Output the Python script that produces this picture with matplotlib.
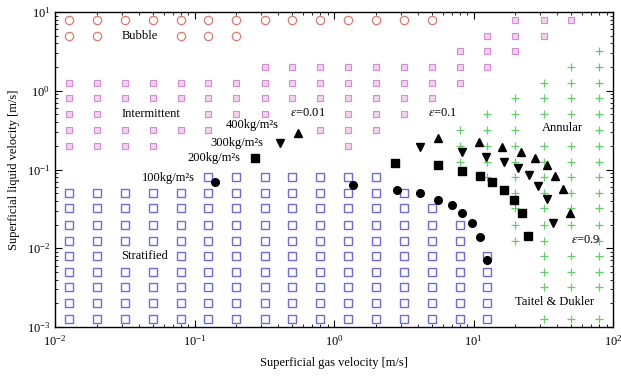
import matplotlib
matplotlib.use("Agg")
import matplotlib.pyplot as plt
import numpy as np

plt.rcParams['font.family'] = ['Liberation Serif', 'DejaVu Serif']
plt.rcParams['mathtext.fontset'] = 'stix'

# ---------------- data ----------------
# Flow-pattern observations: (liquid velocity row, list of gas velocities)
bubble_rows = [8, 5]
bubble_cols = [
    [0.0125, 0.02, 0.032, 0.05, 0.08, 0.125, 0.2, 0.32, 0.5, 0.8, 1.25, 2, 3.2, 5],
    [0.0125, 0.02, 0.08, 0.125, 0.2],
]

inter_rows = [8, 5, 3.2, 2, 1.25, 0.8, 0.5, 0.32, 0.2]
inter_cols = [
    [20, 32, 50],
    [12.5, 20, 32],
    [8, 12.5, 20],
    [0.32, 0.5, 0.8, 1.25, 2, 3.2, 5, 8, 12.5],
    [0.0125, 0.02, 0.032, 0.05, 0.08, 0.125, 0.2, 0.32, 0.5, 0.8, 1.25, 2, 3.2, 5, 8],
    [0.0125, 0.02, 0.032, 0.05, 0.08, 0.125, 0.2, 0.32, 0.5, 0.8, 1.25, 2, 3.2, 5],
    [0.0125, 0.02, 0.125, 0.2, 0.32, 1.25, 2, 3.2],
    [0.0125, 0.02, 0.032, 0.05, 0.08, 0.125, 0.8, 1.25, 2],
    [0.0125, 0.02, 0.032, 0.05, 1.25],
]

strat_rows = [0.08, 0.05, 0.032, 0.02, 0.0125, 0.008, 0.005, 0.0032, 0.002, 0.00125]
strat_cols = [
    [0.125, 0.2, 0.32, 0.5, 0.8, 1.25, 2],
    [0.0125, 0.02, 0.032, 0.05, 0.08, 0.125, 0.2, 0.32, 0.5, 0.8, 1.25, 2, 3.2],
    [0.0125, 0.02, 0.032, 0.05, 0.08, 0.125, 0.2, 0.32, 0.5, 0.8, 1.25, 2, 3.2, 5],
    [0.0125, 0.02, 0.032, 0.05, 0.08, 0.125, 0.2, 0.32, 0.5, 0.8, 1.25, 2, 3.2, 5, 8],
    [0.0125, 0.02, 0.032, 0.05, 0.08, 0.125, 0.2, 0.32, 0.5, 0.8, 1.25, 2, 3.2, 5, 8],
    [0.0125, 0.02, 0.08, 0.125, 0.2, 0.32, 0.5, 0.8, 1.25, 2, 3.2, 5, 8, 12.5],
    [0.0125, 0.02, 0.032, 0.05, 0.08, 0.125, 0.2, 0.32, 0.5, 0.8, 1.25, 2, 3.2, 5, 8, 12.5],
    [0.0125, 0.02, 0.032, 0.05, 0.08, 0.125, 0.2, 0.32, 0.5, 0.8, 1.25, 2, 3.2, 5, 8, 12.5],
    [0.0125, 0.02, 0.032, 0.05, 0.08, 0.125, 0.2, 0.32, 0.5, 0.8, 1.25, 2, 3.2, 5, 8, 12.5],
    [0.0125, 0.02, 0.032, 0.05, 0.08, 0.125, 0.2, 0.32, 0.5, 0.8, 1.25, 2, 3.2, 5, 8, 12.5],
]

annular_rows = [3.2, 2, 1.25, 0.8, 0.5, 0.32, 0.2, 0.125, 0.08, 0.05, 0.032, 0.02,
                0.0125, 0.008, 0.005, 0.0032, 0.00125]
annular_cols = [
    [80],
    [50, 80],
    [32, 50, 80],
    [20, 32, 50, 80],
    [12.5, 20, 32, 50, 80],
    [8, 12.5, 20, 80],
    [8, 12.5, 20, 32, 50, 80],
    [8, 12.5, 20, 32, 50, 80],
    [12.5, 20, 32, 50, 80],
    [20, 32, 50, 80],
    [20, 32, 50, 80],
    [20, 32, 50, 80],
    [20, 32, 80],
    [32, 50, 80],
    [32, 50, 80],
    [32, 50, 80],
    [32, 50, 80],
]

# Prediction points for mass fluxes, quality from 0.01 to 0.9
g100_x = [0.140, 1.37, 2.83, 4.13, 5.57, 7.02, 8.27, 9.75, 11.1, 12.5]
g100_y = [0.0694, 0.0635, 0.0549, 0.0503, 0.0410, 0.0354, 0.0281, 0.0209, 0.0139, 0.0071]
g200_x = [0.272, 2.74, 5.57, 8.27, 11.1, 13.6, 16.5, 19.5, 22.3, 24.6]
g200_y = [0.140, 0.121, 0.114, 0.0957, 0.0827, 0.0694, 0.0549, 0.0410, 0.0281, 0.0143]
g300_x = [0.410, 4.13, 8.27, 12.3, 16.5, 20.9, 25.0, 29.0, 33.6, 37.1]
g300_y = [0.217, 0.193, 0.167, 0.144, 0.124, 0.104, 0.0851, 0.0617, 0.0421, 0.0209]
g400_x = [0.552, 5.57, 10.9, 16.0, 21.9, 27.6, 33.6, 38.4, 43.8, 49.2]
g400_y = [0.290, 0.251, 0.223, 0.193, 0.167, 0.140, 0.114, 0.0827, 0.0565, 0.0281]

# ---------------- figure ----------------
fig = plt.figure(figsize=(6.21, 3.78), dpi=100)
ax = fig.add_axes([55/621, 1-327/378, (613-55)/621, (327-12)/378])


def plot_regime(rows, cols, **kw):
    xs, ys = [], []
    for r, cs in zip(rows, cols):
        xs.extend(cs)
        ys.extend([r] * len(cs))
    ax.plot(xs, ys, linestyle='none', **kw)


plot_regime(bubble_rows, bubble_cols, marker='o', ms=6, mfc='none', mec='#e27a6e', mew=0.9)
plot_regime(inter_rows, inter_cols, marker='s', ms=4, mfc='#f3d2f0', mec='#d88ad8', mew=0.8)
plot_regime(strat_rows, strat_cols, marker='s', ms=5.8, mfc='none', mec='#6b6be0', mew=1.0)
plot_regime(annular_rows, annular_cols, marker='+', ms=5.5, color='#62cf62', mew=0.9)

ax.plot(g100_x, g100_y, 'o', ms=5.5, color='black')
ax.plot(g200_x, g200_y, 's', ms=5.5, color='black')
ax.plot(g300_x, g300_y, 'v', ms=5.5, color='black')
ax.plot(g400_x, g400_y, '^', ms=5.5, color='black')

ax.set_xscale('log')
ax.set_yscale('log')
ax.set_xlim(0.01, 100)
ax.set_ylim(0.001, 10)

ax.tick_params(which='both', direction='in', top=True, right=True, labelsize=9)
ax.tick_params(which='major', length=5)
ax.tick_params(which='minor', length=2.5)
ax.tick_params(axis='x', pad=5)
for s in ax.spines.values():
    s.set_linewidth(1.0)

ax.set_xlabel('Superficial gas velocity [m/s]', fontsize=9, labelpad=6)
ax.set_ylabel('Superficial liquid velocity [m/s]', fontsize=9, labelpad=5)

fs = 9
ax.text(0.030, 5.0, 'Bubble', fontsize=fs, va='center', ha='left')
ax.text(0.030, 0.5, 'Intermittent', fontsize=fs, va='center', ha='left')
ax.text(0.030, 0.008, 'Stratified', fontsize=fs, va='center', ha='left')
ax.text(0.48, 0.52, r'$\varepsilon$=0.01', fontsize=fs, va='center', ha='left')
ax.text(0.40, 0.365, '400kg/m²s', fontsize=fs, va='center', ha='right')
ax.text(0.31, 0.215, '300kg/m²s', fontsize=fs, va='center', ha='right')
ax.text(0.212, 0.14, '200kg/m²s', fontsize=fs, va='center', ha='right')
ax.text(0.101, 0.078, '100kg/m²s', fontsize=fs, va='center', ha='right')
ax.text(4.7, 0.52, r'$\varepsilon$=0.1', fontsize=fs, va='center', ha='left')
ax.text(31, 0.336, 'Annular', fontsize=fs, va='center', ha='left')
ax.text(50, 0.0127, r'$\varepsilon$=0.9', fontsize=fs, va='center', ha='left')
ax.text(20, 0.00207, 'Taitel & Dukler', fontsize=fs, va='center', ha='left')

fig.savefig('out.png', dpi=100)
